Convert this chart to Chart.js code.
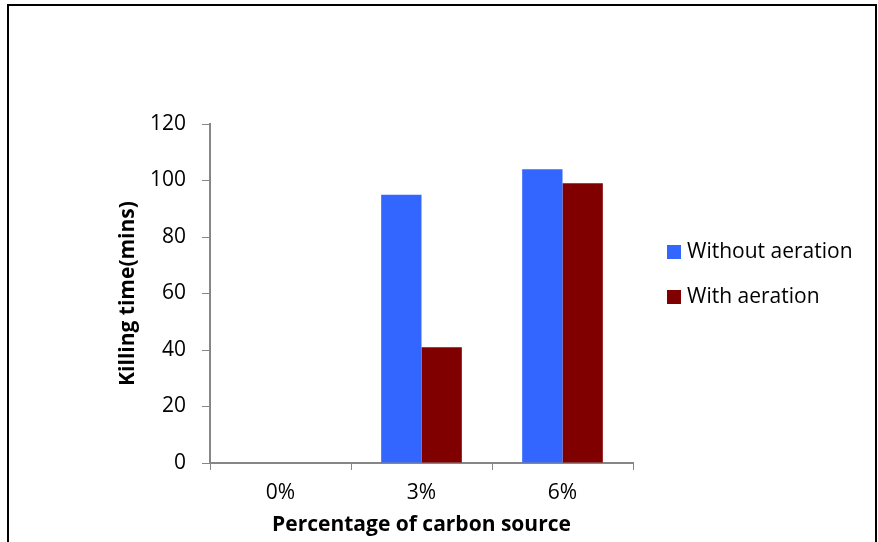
<!DOCTYPE html>
<html>
<head>
<meta charset="utf-8">
<script src="https://cdn.jsdelivr.net/npm/chart.js@4/dist/chart.umd.min.js"></script>
<style>
  html, body { margin: 0; padding: 0; background: #fff; }
  #wrap { position: relative; width: 878px; height: 542px; }
  canvas { display: block; }
</style>
</head>
<body>
<div id="wrap"><canvas id="c" width="878" height="542"></canvas></div>
<script>
// Carbon source levels and killing times (minutes)
const categories = ['0%', '3%', '6%'];
const withoutAeration = [0, 95, 104];
const withAeration = [0, 41, 99];
const yTicks = [0, 20, 40, 60, 80, 100, 120];

const FONT = "'Open Sans', 'DejaVu Sans', sans-serif";
const AXIS_GREY = '#868686';
const SIZE = 21;

// Outer frame around the figure
const framePlugin = {
  id: 'frame',
  afterDraw(chart) {
    const ctx = chart.ctx;
    ctx.save();
    ctx.strokeStyle = '#000';
    ctx.lineWidth = 2;
    ctx.strokeRect(8, 5, 868, 560);
    ctx.restore();
  }
};

// Legend to the right of the plot: square swatch + label per series
const sideLegend = {
  id: 'sideLegend',
  afterDraw(chart) {
    const ctx = chart.ctx;
    const x0 = 667, size = 14, rows = [252, 297];
    ctx.save();
    ctx.font = SIZE + "px " + FONT;
    ctx.textBaseline = 'middle';
    chart.data.datasets.forEach((ds, i) => {
      const y = rows[i];
      ctx.fillStyle = ds.backgroundColor;
      ctx.fillRect(x0, y - size / 2, size, size);
      ctx.fillStyle = '#000';
      ctx.fillText(ds.label, x0 + 20, y);
    });
    ctx.restore();
  }
};

new Chart(document.getElementById('c'), {
  type: 'bar',
  data: {
    labels: categories,
    datasets: [
      { label: 'Without aeration', data: withoutAeration, backgroundColor: '#3366FF',
        categoryPercentage: 0.572, barPercentage: 1.0 },
      { label: 'With aeration', data: withAeration, backgroundColor: '#800000',
        categoryPercentage: 0.572, barPercentage: 1.0 }
    ]
  },
  options: {
    responsive: false,
    animation: false,
    layout: { padding: { left: 0, right: 245, top: 124, bottom: 0 } },
    plugins: {
      legend: { display: false },
      tooltip: { enabled: false }
    },
    scales: {
      x: {
        afterFit(scale) { scale.height = 79; },
        grid: { offset: true, drawOnChartArea: false, drawTicks: true, tickLength: 7, color: AXIS_GREY, lineWidth: 1 },
        border: { color: AXIS_GREY, width: 2 },
        ticks: { color: '#000', font: { family: FONT, size: SIZE }, padding: 10 },
        title: {
          display: true, text: 'Percentage of carbon source', color: '#000',
          font: { family: FONT, size: SIZE, weight: 'bold' }, padding: { top: 0, bottom: 4 }
        }
      },
      y: {
        min: 0, max: 120,
        afterFit(scale) { scale.width = 210; },
        afterBuildTicks(scale) { scale.ticks = yTicks.map(v => ({ value: v })); },
        grid: { drawOnChartArea: false, drawTicks: true, tickLength: 8, color: AXIS_GREY, lineWidth: 1 },
        border: { color: AXIS_GREY, width: 2 },
        ticks: { color: '#000', font: { family: FONT, size: SIZE }, padding: 16 },
        title: {
          display: true, text: 'Killing time(mins)', color: '#000',
          font: { family: FONT, size: SIZE, weight: 'bold' }, padding: { top: 115, bottom: 0 }
        }
      }
    }
  },
  plugins: [framePlugin, sideLegend]
});
</script>
</body>
</html>
